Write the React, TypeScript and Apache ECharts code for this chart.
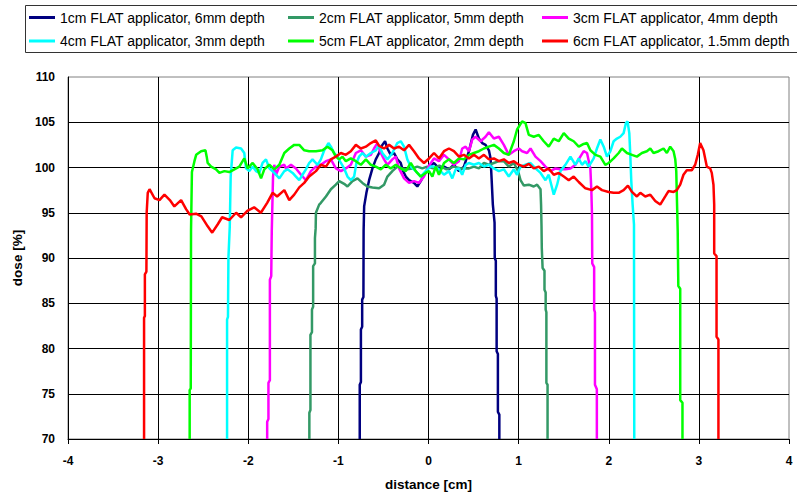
import React, { useEffect, useRef } from "react";
import * as echarts from "echarts";

const seriesNames = [
  "1cm FLAT applicator, 6mm depth",
  "2cm FLAT applicator, 5mm depth",
  "3cm FLAT applicator, 4mm depth",
  "4cm FLAT applicator, 3mm depth",
  "5cm FLAT applicator, 2mm depth",
  "6cm FLAT applicator, 1.5mm depth",
];
const seriesColors = ["#000080", "#339966", "#ff00ff", "#00ffff", "#00ff00", "#ff0000"];

const xTicks = { min: -4, max: 4, interval: 1 };
const yTicks = { min: 70, max: 110, interval: 5 };

const navy1cm = [[-0.763,70],[-0.763,76],[-0.75,76.3],[-0.75,82.1],[-0.736,82.4],[-0.736,85.4],[-0.722,85.7],[-0.72,93],[-0.714,95.7],[-0.689,97.2],[-0.659,98.6],[-0.622,99.9],[-0.585,100.9],[-0.548,101.6],[-0.512,102.5],[-0.482,102.9],[-0.456,102.1],[-0.419,101.4],[-0.382,101.6],[-0.346,100.9],[-0.308,100.5],[-0.282,99.6],[-0.252,99.0],[-0.216,98.6],[-0.161,98.3],[-0.124,97.9],[-0.086,98.5],[-0.05,99.2],[0.006,100.1],[0.061,100.5],[0.116,99.9],[0.172,100.1],[0.227,99.8],[0.282,100.3],[0.338,99.6],[0.393,100.1],[0.449,101.8],[0.493,103.6],[0.523,104.2],[0.559,103.2],[0.596,102.7],[0.633,102.5],[0.67,101.9],[0.689,101.0],[0.7,98.8],[0.714,95.9],[0.733,93.9],[0.735,90],[0.747,89.7],[0.747,85.8],[0.756,85.5],[0.756,79.7],[0.77,79.4],[0.77,73],[0.786,72.7],[0.786,70]];

const green2cm = [[-1.322,70],[-1.322,72.9],[-1.31,73.2],[-1.31,81.5],[-1.293,81.8],[-1.293,84.3],[-1.28,84.6],[-1.28,89.1],[-1.26,89.4],[-1.26,92.2],[-1.252,93.3],[-1.249,95.0],[-1.213,95.9],[-1.194,96.1],[-1.138,96.8],[-1.083,97.6],[-1.028,98.1],[-0.991,98.5],[-0.936,98.2],[-0.899,97.9],[-0.844,98.5],[-0.788,98.8],[-0.733,98.3],[-0.678,97.9],[-0.622,97.8],[-0.548,97.7],[-0.493,98.1],[-0.456,99.0],[-0.401,99.6],[-0.346,100.1],[-0.29,99.9],[-0.235,99.8],[-0.179,99.9],[-0.124,100.1],[-0.069,99.9],[-0.013,100.1],[0.05,99.9],[0.12,100.2],[0.2,99.8],[0.28,100.1],[0.36,99.9],[0.449,99.9],[0.504,100.1],[0.559,99.9],[0.615,100.5],[0.67,100.3],[0.725,100.5],[0.781,100.7],[0.836,100.7],[0.891,100.1],[0.947,100.5],[0.994,99.6],[1.021,98.6],[1.058,98.0],[1.113,98.1],[1.168,97.9],[1.205,98.1],[1.243,97.6],[1.249,95.9],[1.254,93.5],[1.257,91.1],[1.266,88.9],[1.287,88.6],[1.287,86.5],[1.3,86.2],[1.3,84.3],[1.308,84.0],[1.308,76.2],[1.321,76],[1.321,70]];

const magenta3cm = [[-1.79,70],[-1.79,71.9],[-1.776,72.2],[-1.776,76.2],[-1.76,76.5],[-1.76,87.6],[-1.745,88],[-1.739,93],[-1.725,99],[-1.711,100.3],[-1.692,99.2],[-1.655,100.1],[-1.6,100.3],[-1.581,99.9],[-1.526,100.3],[-1.471,99.9],[-1.415,99.2],[-1.36,98.6],[-1.305,99.6],[-1.249,100.1],[-1.194,100.3],[-1.138,100.7],[-1.083,100.9],[-1.028,99.9],[-0.972,99.6],[-0.917,99.9],[-0.862,100.3],[-0.806,101.6],[-0.751,101.9],[-0.695,101.2],[-0.64,101.4],[-0.604,102.1],[-0.567,102.7],[-0.529,101.6],[-0.493,100.9],[-0.456,100.3],[-0.401,100.9],[-0.363,101.2],[-0.327,99.9],[-0.271,98.8],[-0.216,98.3],[-0.161,98.5],[-0.105,98.3],[-0.05,99.0],[0.006,100.2],[0.061,101.0],[0.116,100.7],[0.172,101.4],[0.227,100.9],[0.282,100.3],[0.338,100.7],[0.374,102.1],[0.412,102.3],[0.449,101.8],[0.486,103.1],[0.523,103.4],[0.578,102.9],[0.633,103.4],[0.67,103.9],[0.725,103.2],[0.781,103.4],[0.836,102.5],[0.891,101.4],[0.947,101.8],[1.002,102.1],[1.039,101.8],[1.094,101.6],[1.132,102.1],[1.187,101.2],[1.243,100.7],[1.298,100.1],[1.353,99.6],[1.409,99.9],[1.464,99.8],[1.519,99.8],[1.575,99.9],[1.63,100.3],[1.685,101.2],[1.722,101.8],[1.759,101.6],[1.796,99.9],[1.807,97.4],[1.814,94.8],[1.817,89.4],[1.838,89],[1.838,84.3],[1.847,84],[1.847,76],[1.868,75.5],[1.868,70]];

const cyan4cm = [[-2.235,70],[-2.235,83.2],[-2.225,83.5],[-2.22,90],[-2.205,93.5],[-2.195,99],[-2.173,101.9],[-2.135,102.2],[-2.08,102.1],[-2.044,101.6],[-2.025,99.9],[-1.988,99.6],[-1.951,100.1],[-1.914,99.6],[-1.877,99.4],[-1.841,100.5],[-1.803,100.9],[-1.766,99.9],[-1.711,99.4],[-1.655,98.8],[-1.6,99.6],[-1.564,99.8],[-1.508,99.4],[-1.471,99.0],[-1.434,98.6],[-1.398,99.2],[-1.36,99.8],[-1.324,100.5],[-1.287,100.9],[-1.231,100.3],[-1.194,100.9],[-1.157,101.9],[-1.11,102.7],[-1.083,102.3],[-1.047,101.6],[-1.01,101.2],[-0.972,100.5],[-0.936,99.9],[-0.899,99.0],[-0.862,98.6],[-0.825,99.0],[-0.8,100.5],[-0.77,101.2],[-0.733,101.6],[-0.695,101.2],[-0.64,101.6],[-0.585,101.9],[-0.548,102.5],[-0.512,101.6],[-0.456,100.9],[-0.401,101.6],[-0.346,102.7],[-0.308,102.9],[-0.271,102.3],[-0.235,100.9],[-0.197,100.1],[-0.142,99.6],[-0.086,99.0],[-0.031,99.6],[0.024,100.1],[0.061,100.1],[0.116,99.8],[0.172,99.2],[0.227,99.6],[0.264,98.8],[0.301,99.8],[0.338,99.9],[0.374,99.2],[0.412,100.3],[0.449,100.5],[0.504,100.3],[0.559,100.5],[0.615,100.1],[0.67,100.3],[0.725,99.9],[0.781,99.6],[0.836,99.8],[0.891,99.0],[0.947,99.8],[0.983,99.2],[1.021,100.1],[1.076,100.3],[1.132,100.5],[1.187,99.9],[1.243,99.4],[1.298,98.6],[1.334,99.2],[1.39,97.0],[1.427,98.1],[1.464,99.6],[1.519,100.3],[1.575,101.2],[1.63,100.3],[1.667,101.0],[1.703,100.3],[1.741,100.7],[1.777,100.1],[1.833,101.0],[1.869,102.1],[1.907,103.1],[1.944,102.3],[1.98,101.2],[2.018,101.8],[2.054,102.9],[2.091,103.2],[2.128,103.4],[2.165,103.8],[2.19,104.9],[2.209,105.1],[2.228,103.8],[2.239,101.4],[2.25,98.5],[2.265,95.9],[2.28,93.7],[2.283,70]];

const lime5cm = [[-2.65,70],[-2.65,75.4],[-2.638,75.6],[-2.635,93],[-2.625,99.5],[-2.597,100.7],[-2.578,101.4],[-2.523,101.8],[-2.475,101.9],[-2.461,101.2],[-2.45,100.5],[-2.412,100.1],[-2.357,99.8],[-2.32,99.4],[-2.265,99.6],[-2.21,99.5],[-2.154,99.8],[-2.099,100.1],[-2.044,101.0],[-2.007,99.9],[-1.951,100.5],[-1.896,99.8],[-1.858,98.8],[-1.822,99.8],[-1.766,100.3],[-1.711,99.8],[-1.655,100.3],[-1.6,101.6],[-1.545,102.1],[-1.49,102.5],[-1.434,102.5],[-1.379,101.9],[-1.324,101.8],[-1.249,101.8],[-1.176,101.9],[-1.121,102.3],[-1.065,101.9],[-1.028,101.2],[-0.991,100.9],[-0.955,101.2],[-0.917,100.7],[-0.862,101.0],[-0.806,100.7],[-0.751,100.3],[-0.695,100.9],[-0.64,100.3],[-0.585,100.1],[-0.529,99.8],[-0.474,100.3],[-0.419,99.9],[-0.363,100.3],[-0.308,99.9],[-0.252,99.6],[-0.197,100.5],[-0.142,99.6],[-0.086,99.0],[-0.031,99.4],[0.006,99.6],[0.043,99.0],[0.08,100.1],[0.116,99.2],[0.172,100.5],[0.227,100.9],[0.282,100.5],[0.338,101.0],[0.393,100.9],[0.449,101.4],[0.504,101.6],[0.559,101.8],[0.615,102.1],[0.67,102.3],[0.725,102.5],[0.781,102.1],[0.836,101.6],[0.891,101.4],[0.947,102.9],[0.983,104.2],[1.039,105.1],[1.076,104.9],[1.113,103.6],[1.168,103.4],[1.224,103.6],[1.279,102.9],[1.334,102.3],[1.39,103.2],[1.445,102.9],[1.501,103.8],[1.556,103.2],[1.611,102.9],[1.667,102.3],[1.722,102.6],[1.759,102.7],[1.796,101.9],[1.852,101.4],[1.907,101.2],[1.962,100.3],[1.999,100.5],[2.054,101.0],[2.11,101.6],[2.146,102.1],[2.202,101.6],[2.257,101.4],[2.312,101.2],[2.368,101.6],[2.423,101.8],[2.461,102.1],[2.497,101.6],[2.553,101.8],[2.608,102.1],[2.645,101.6],[2.682,102.3],[2.719,101.8],[2.738,100.9],[2.749,99.6],[2.765,93],[2.772,86.9],[2.793,86.6],[2.793,74.3],[2.818,74],[2.818,70]];

const red6cm = [[-3.156,70],[-3.156,83.4],[-3.147,83.6],[-3.147,88.2],[-3.13,88.5],[-3.127,95],[-3.115,97.2],[-3.095,97.6],[-3.04,96.6],[-2.985,96.4],[-2.93,97.0],[-2.87,96.4],[-2.82,95.7],[-2.745,96.4],[-2.69,95.4],[-2.65,94.8],[-2.58,94.9],[-2.52,94.6],[-2.45,93.5],[-2.40,92.8],[-2.34,93.7],[-2.29,94.5],[-2.21,94.2],[-2.135,95.0],[-2.08,94.5],[-2.01,95.2],[-1.935,95.6],[-1.86,95.0],[-1.79,96.1],[-1.73,97.2],[-1.68,96.8],[-1.60,97.5],[-1.545,96.4],[-1.49,97.0],[-1.434,97.8],[-1.379,98.3],[-1.324,99.0],[-1.249,99.6],[-1.194,100.3],[-1.138,100.1],[-1.083,100.9],[-1.028,101.2],[-0.972,101.6],[-0.917,101.4],[-0.862,101.8],[-0.806,102.5],[-0.751,102.1],[-0.695,102.3],[-0.64,102.7],[-0.585,103.0],[-0.548,102.4],[-0.493,102.1],[-0.437,102.5],[-0.382,102.1],[-0.327,102.3],[-0.271,101.9],[-0.216,102.5],[-0.161,101.8],[-0.105,101.0],[-0.05,100.5],[0.006,101.0],[0.061,101.6],[0.116,101.0],[0.172,101.8],[0.227,102.1],[0.282,101.8],[0.338,101.2],[0.393,101.4],[0.449,101.0],[0.504,101.4],[0.559,101.0],[0.615,101.4],[0.67,100.9],[0.725,101.0],[0.781,100.7],[0.836,100.9],[0.891,100.5],[0.947,100.7],[1.002,100.3],[1.058,100.1],[1.113,100.4],[1.168,99.9],[1.224,100.1],[1.279,99.6],[1.334,99.9],[1.39,99.2],[1.445,99.4],[1.501,99.0],[1.556,98.6],[1.611,99.0],[1.667,98.4],[1.741,97.7],[1.814,97.5],[1.869,97.9],[1.925,97.5],[1.999,97.3],[2.054,97.2],[2.11,97.2],[2.165,97.5],[2.213,98.0],[2.257,97.3],[2.312,96.8],[2.35,97.2],[2.405,96.8],[2.461,97.0],[2.516,96.3],[2.571,95.9],[2.627,96.8],[2.663,97.4],[2.719,97.3],[2.755,97.5],[2.793,98.1],[2.829,99.2],[2.866,99.7],[2.921,99.7],[2.959,100.3],[2.988,101.4],[3.014,102.7],[3.051,101.9],[3.088,100.1],[3.125,99.9],[3.143,99.4],[3.162,98.1],[3.17,95.9],[3.17,90.5],[3.196,90.2],[3.196,81.3],[3.217,81],[3.217,70]];

const seriesData = [navy1cm, green2cm, magenta3cm, cyan4cm, lime5cm, red6cm];

const FONT = "'Liberation Sans', Arial, sans-serif";

export default function App() {
  const ref = useRef<HTMLDivElement>(null);
  useEffect(() => {
    if (!ref.current) return;
    const chart = echarts.init(ref.current, null, { renderer: "svg" });
    const legendPos = [
      [29, 9.5], [288, 9.5], [542, 9.5],
      [29, 33], [288, 33], [542, 33],
    ];
    chart.setOption({
      animation: false,
      backgroundColor: "#ffffff",
      textStyle: { fontFamily: FONT },
      legend: seriesNames.map((n, i) => ({
        data: [n],
        left: legendPos[i][0],
        top: legendPos[i][1],
        padding: 0,
        icon: "rect",
        itemWidth: 26,
        itemHeight: 3,
        selectedMode: false,
        textStyle: { fontFamily: FONT, fontSize: 14, color: "#000", lineHeight: 16 },
      })),
      graphic: [
        {
          type: "rect",
          shape: { x: 25.5, y: 5.5, width: 800, height: 47 },
          style: { fill: "none", stroke: "#333333", lineWidth: 1 },
          silent: true,
          z: 100,
        },
      ],
      grid: {
        left: 68,
        right: 8,
        top: 77,
        bottom: 56,
        show: true,
        borderColor: "#808080",
        borderWidth: 1,
      },
      xAxis: {
        type: "value",
        min: xTicks.min,
        max: xTicks.max,
        interval: xTicks.interval,
        name: "distance [cm]",
        nameLocation: "middle",
        nameGap: 38,
        nameTextStyle: { fontFamily: FONT, fontWeight: "bold", fontSize: 13.5, color: "#000" },
        axisLine: { show: true, onZero: false, lineStyle: { color: "#000", width: 1 } },
        axisTick: { show: true, length: 5, lineStyle: { color: "#000" } },
        axisLabel: { fontFamily: FONT, fontWeight: "bold", fontSize: 12, color: "#000", margin: 16 },
        splitLine: { show: true, showMinLine: false, showMaxLine: false, lineStyle: { color: "#000", width: 1 } },
      },
      yAxis: {
        type: "value",
        min: yTicks.min,
        max: yTicks.max,
        interval: yTicks.interval,
        name: "dose [%]",
        nameLocation: "middle",
        nameRotate: 90,
        nameGap: 43,
        nameTextStyle: { fontFamily: FONT, fontWeight: "bold", fontSize: 13.5, color: "#000" },
        axisLine: { show: true, onZero: false, lineStyle: { color: "#000", width: 1 } },
        axisTick: { show: false },
        axisLabel: { fontFamily: FONT, fontWeight: "bold", fontSize: 12, color: "#000", margin: 13 },
        splitLine: { show: true, showMinLine: false, showMaxLine: false, lineStyle: { color: "#000", width: 1 } },
      },
      series: seriesNames.map((n, i) => ({
        name: n,
        type: "line",
        data: seriesData[i],
        showSymbol: false,
        symbol: "none",
        smooth: false,
        color: seriesColors[i],
        lineStyle: { color: seriesColors[i], width: 2.5 },
        z: 2 + i,
      })),
    });
    return () => chart.dispose();
  }, []);
  return (
    <div
      ref={ref}
      style={{ position: "fixed", left: 0, top: 0, width: 797, height: 496 }}
    />
  );
}
